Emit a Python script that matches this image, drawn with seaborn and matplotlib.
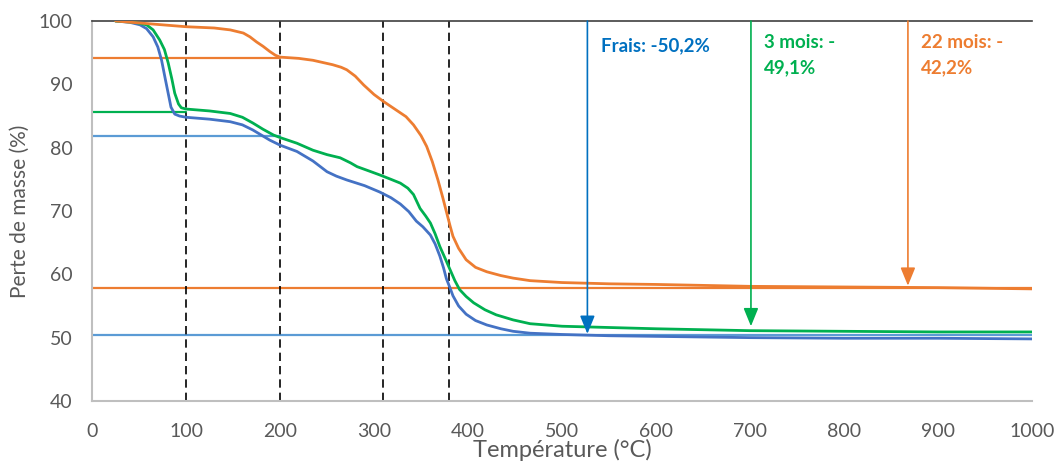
import numpy as np
import pandas as pd
import matplotlib
matplotlib.use("Agg")
import matplotlib.pyplot as plt
import seaborn as sns
from matplotlib.ticker import MultipleLocator

# Courbes ATG
temp_frais = [25, 40, 51, 58, 65, 70, 74, 78, 81, 84, 88, 93, 100, 125, 147, 160, 171, 180,
              189, 200, 218, 235, 250, 260, 271, 290, 306, 318, 328, 337, 345, 352, 360,
              365, 370, 374, 377, 381, 384, 390, 398, 408, 420, 435, 448, 466, 500, 550,
              600, 700, 800, 900, 1000]
masse_frais = [100, 99.8, 99.4, 98.8, 97.5, 95.9, 93.8, 90.8, 88.6, 86.4, 85.3, 85.0, 84.8,
               84.5, 84.1, 83.6, 82.8, 82.0, 81.2, 80.4, 79.4, 77.9, 76.2, 75.5, 74.9, 74.0,
               73.0, 72.1, 71.1, 69.9, 68.4, 67.5, 66.2, 64.8, 62.9, 61.0, 59.3, 57.8, 56.6,
               55.0, 53.7, 52.7, 52.0, 51.4, 51.0, 50.7, 50.5, 50.3, 50.2, 50.0, 49.9, 49.9,
               49.8]

temp_3mois = [25, 45, 58, 65, 72, 77, 81, 85, 88, 92, 95, 100, 125, 147, 160, 171, 182, 193,
              200, 218, 235, 250, 264, 275, 282, 295, 306, 318, 328, 336, 342, 349, 355,
              360, 365, 370, 376, 381, 386, 391, 398, 406, 418, 430, 448, 466, 500, 550,
              600, 700, 800, 900, 1000]
masse_3mois = [100, 99.8, 99.4, 98.6, 97.0, 95.5, 93.4, 90.8, 88.6, 86.9, 86.3, 86.1, 85.8,
               85.4, 84.8, 83.9, 82.9, 82.0, 81.6, 80.7, 79.6, 78.9, 78.4, 77.6, 77.0, 76.3,
               75.7, 75.0, 74.4, 73.6, 72.6, 70.4, 69.2, 68.1, 66.4, 64.4, 62.4, 60.7, 59.0,
               57.6, 56.5, 55.5, 54.4, 53.6, 52.8, 52.2, 51.8, 51.6, 51.4, 51.1, 51.0, 50.9,
               50.9]

temp_22mois = [25, 58, 100, 130, 147, 161, 168, 175, 182, 189, 195, 200, 220, 235, 256, 265,
               271, 280, 289, 300, 310, 324, 334, 342, 350, 356, 362, 368, 373, 377, 381,
               384, 390, 398, 408, 420, 435, 448, 466, 500, 550, 600, 700, 800, 900, 1000]
masse_22mois = [100, 99.6, 99.1, 98.9, 98.6, 98.1, 97.5, 96.7, 96.0, 95.2, 94.6, 94.3, 94.1,
                93.8, 93.1, 92.7, 92.3, 91.3, 89.9, 88.4, 87.3, 85.9, 84.9, 83.6, 81.9, 80.2,
                77.8, 74.9, 72.2, 69.9, 67.6, 66.0, 64.1, 62.3, 61.1, 60.4, 59.8, 59.4, 59.0,
                58.7, 58.5, 58.4, 58.1, 58.0, 57.9, 57.7]

# Lignes horizontales de repère : (niveau, T fin)
repere_22mois = [(94.2, 200), (57.8, 1000)]
repere_3mois = [(85.7, 100)]
repere_frais = [(81.8, 200), (50.4, 1000)]

# Lignes verticales pointillées
temp_etapes = [100, 200, 310, 380]

# Flèches de perte de masse : (T, bas, couleur)
fleches = [(527, 50.6, "#0070C0"), (701, 51.8, "#00B050"), (868, 58.2, "#ED7D31")]
labels_pertes = ["Frais: -50,2%", "3 mois: -\n49,1%", "22 mois: -\n42,2%"]
pos_labels = [(541, 97.4), (715, 97.9), (882, 97.9)]

sns.set_style("white")
plt.rcParams["font.family"] = ["Lato", "DejaVu Sans"]

df = pd.concat([
    pd.DataFrame({"T": temp_frais, "m": masse_frais, "ech": "Frais"}),
    pd.DataFrame({"T": temp_3mois, "m": masse_3mois, "ech": "3 mois"}),
    pd.DataFrame({"T": temp_22mois, "m": masse_22mois, "ech": "22 mois"}),
])
palette = {"Frais": "#4472C4", "3 mois": "#00B050", "22 mois": "#ED7D31"}

fig = plt.figure(figsize=(10.59, 4.63), dpi=100)
ax = fig.add_axes([0.0869, 0.134, 0.8876, 0.8206])

for niveau, tfin in repere_22mois:
    ax.plot([0, tfin], [niveau, niveau], color="#ED7D31", lw=1.6, zorder=1)
for niveau, tfin in repere_3mois:
    ax.plot([0, tfin], [niveau, niveau], color="#00B050", lw=1.6, zorder=1)
for niveau, tfin in repere_frais:
    ax.plot([0, tfin], [niveau, niveau], color="#5B9BD5", lw=1.6, zorder=1)

sns.lineplot(data=df, x="T", y="m", hue="ech", palette=palette, lw=2.0,
             legend=False, ax=ax, sort=False, estimator=None, zorder=3)
for ln in ax.get_lines():
    ln.set_solid_joinstyle("round")

for t in temp_etapes:
    ax.axvline(t, color="black", lw=1.2, ls=(0, (5, 3)), zorder=2)

for (t, bas, c), lab, (tx, ty) in zip(fleches, labels_pertes, pos_labels):
    ax.annotate("", xy=(t, bas), xytext=(t, 100),
                arrowprops=dict(arrowstyle="-|>,head_width=0.45,head_length=1.1",
                                color=c, lw=1.2, shrinkA=0, shrinkB=0), zorder=4)
    ax.text(tx, ty, lab, color=c, fontsize=13.5, fontweight="bold",
            va="top", ha="left", linespacing=1.55)

ax.set_xlim(0, 1000)
ax.set_ylim(40, 100)
ax.xaxis.set_major_locator(MultipleLocator(100))
ax.xaxis.set_minor_locator(MultipleLocator(50))
ax.yaxis.set_major_locator(MultipleLocator(10))
ax.yaxis.set_minor_locator(MultipleLocator(2))
ax.tick_params(axis="both", which="major", direction="inout", length=8, width=1.2,
               color="#BFBFBF", labelcolor="#595959", labelsize=14)
ax.tick_params(axis="both", which="minor", direction="in", length=4, width=1,
               color="#BFBFBF")
ax.tick_params(axis="x", pad=12)
ax.tick_params(axis="y", pad=10)

for s in ["left", "bottom"]:
    ax.spines[s].set_color("#BFBFBF")
    ax.spines[s].set_linewidth(1.5)
ax.spines["top"].set_color("#404040")
ax.spines["top"].set_linewidth(1.2)
ax.spines["right"].set_visible(False)

ax.set_xlabel("Température (°C)", fontsize=17, color="#595959", labelpad=-1)
ax.set_ylabel("Perte de masse (%)", fontsize=15, color="#595959", labelpad=6)

fig.savefig("out.png", dpi=100)
